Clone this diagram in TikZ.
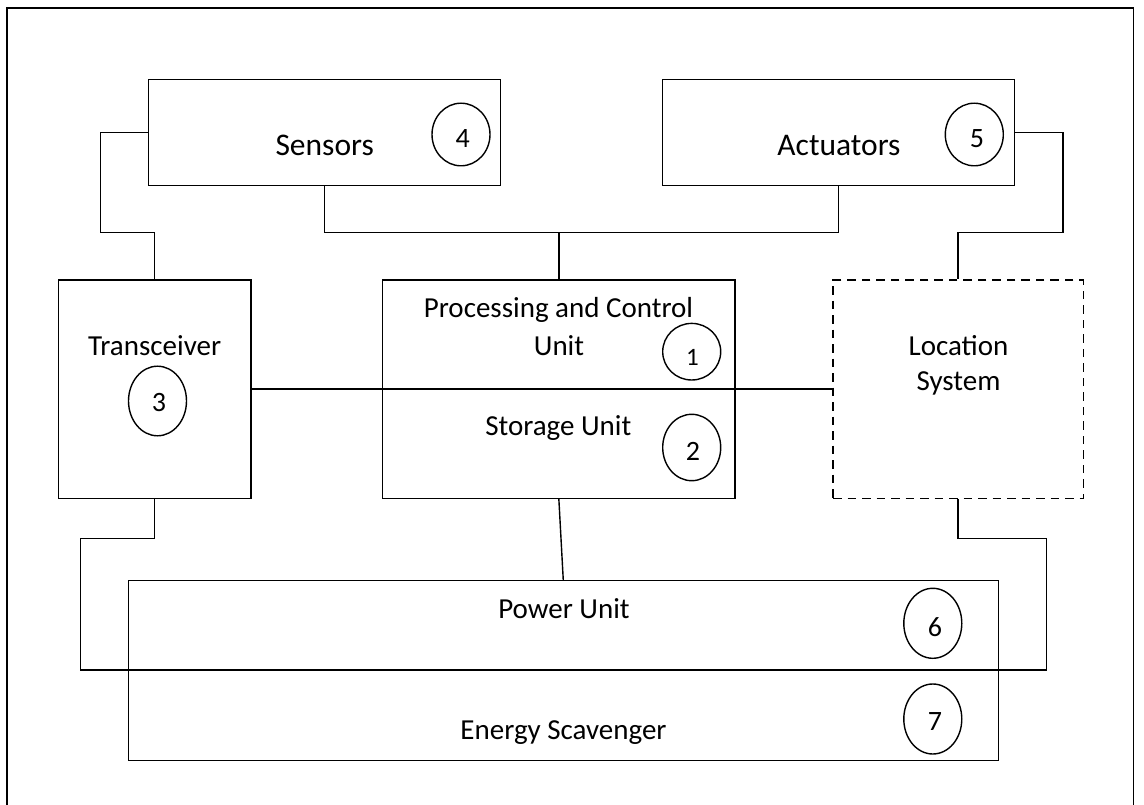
\documentclass[tikz,border=0pt]{standalone}
\usepackage{fontspec}
\setmainfont{Carlito}
\usetikzlibrary{shapes.geometric}
\newcommand\myBig{\fontsize{31.5}{36}\selectfont}
\newcommand\myMid{\fontsize{29}{36}\selectfont}
\newcommand\myDig{\fontsize{28}{32}\selectfont}
\begin{document}
\begin{tikzpicture}[x=1pt,y=-1pt,
  line width=1.4pt,
  box/.style={draw, rectangle, inner sep=0pt, line width=1.4pt},
  dbox/.style={box, dash pattern=on 8.5pt off 6pt},
  numc/.style={draw, ellipse, inner sep=0pt, line width=1.4pt, minimum width=58pt},
  dig/.style={inner sep=0pt, font=\myDig},
  lblbig/.style={inner sep=0pt, anchor=base, font=\myBig},
  lbl/.style={inner sep=0pt, anchor=base, font=\myMid},
  wire/.style={draw, line width=1.4pt}
]
\useasboundingbox (0,0) rectangle (1144,805);
% outer frame
\draw (7,805) -- (7,8) -- (1133.3,8) -- (1133.3,805);

% boxes
\node[box, minimum width=352.1pt, minimum height=106pt] (sens) at (324.55,132.3) {};
\node[box, minimum width=352pt, minimum height=106pt] (act) at (838.4,132.3) {};
\node[box, minimum width=192.8pt, minimum height=218.3pt] (trans) at (154.6,389.15) {};
\node[box, minimum width=352.3pt, minimum height=109.3pt] (proc) at (558.85,334.65) {};
\node[box, minimum width=352.3pt, minimum height=109pt] (stor) at (558.85,443.8) {};
\node[dbox, minimum width=250.3pt, minimum height=218.3pt] (loc) at (958.15,389.15) {};
\node[box, minimum width=870.3pt, minimum height=89.3pt] (power) at (563.35,625.35) {};
\node[box, minimum width=870.3pt, minimum height=90.7pt] (energy) at (563.35,715.35) {};

% labels
\node[lblbig] (tsens) at (324.7,156) {Sensors};
\node[lblbig] (tact) at (839,156) {Actuators};
\node[lbl] (ttrans) at (154.6,355) {Transceiver};
\node[lbl] (tproc1) at (558.5,318) {Processing and Control};
\node[lbl] (tproc2) at (559,355) {Unit};
\node[lbl] (tstor) at (558.3,435) {Storage Unit};
\node[lbl] (tloc1) at (958.5,355) {Location};
\node[lbl] (tloc2) at (958.5,390.7) {System};
\node[lbl] (tpow) at (564,618) {Power Unit};
\node[lbl] (tene) at (563.5,739) {Energy Scavenger};

% numbered circles
\node[numc, minimum height=62.6pt] (c4) at (461,134.5) {};
\node[dig] (d4) at (462.6,138.5) {4};
\node[numc, minimum height=62.6pt] (c5) at (974.3,134.5) {};
\node[dig] (d5) at (977,138.5) {5};
\node[numc, minimum height=69.6pt] (c3) at (157.5,401) {};
\node[dig] (d3) at (159,402.6) {3};
\node[numc, minimum height=56.6pt] (c1) at (691.7,351.7) {};
\node[dig, font=\fontsize{25}{30}\selectfont] (d1) at (692.5,357.5) {1};
\node[numc, minimum height=66.4pt] (c2) at (691.7,447.5) {};
\node[dig] (d2) at (693,451) {2};
\node[numc, minimum height=70pt] (c6) at (932.8,623.3) {};
\node[dig] (d6) at (935,626.7) {6};
\node[numc, minimum height=70pt] (c7) at (932.8,719) {};
\node[dig] (d7) at (935,722) {7};

% connector bend points
\coordinate (b1) at (100.3,232.7);
\coordinate (bus) at (558.85,232.7);
\coordinate (b2) at (1062.8,232.7);
\coordinate (b3) at (80.4,538.5);
\coordinate (b4) at (1046.5,670);
\coordinate (b5) at (1046.5,538.5);
\coordinate (p1) at (563.3,580.7);

% connectors
\draw[wire] (sens.west) -| (b1) -| (trans.north);
\draw[wire] (sens.south) |- (bus) -| (act.south);
\draw[wire] (bus) -- (proc.north);
\draw[wire] (act.east) -| (b2) -| (loc.north);
\draw[wire] (trans.east) -- (loc.west);
\draw[wire] (trans.south) |- (b3) |- (b4) -- (b5) -| (loc.south);
\draw[wire] (stor.south) -- (p1);
\end{tikzpicture}
\end{document}
